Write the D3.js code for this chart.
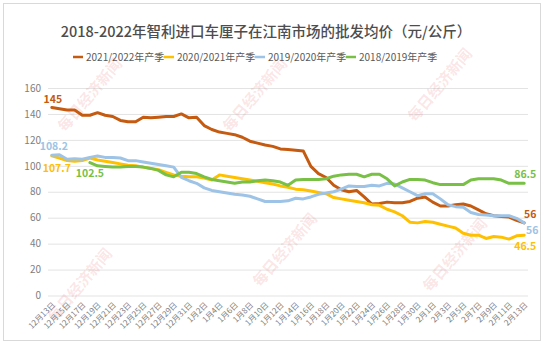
<!DOCTYPE html>
<html>
<head>
<meta charset="utf-8">
<script src="https://cdn.jsdelivr.net/npm/d3@7/dist/d3.min.js"></script>
<style>
  html, body { margin: 0; padding: 0; background: #fff; }
  svg { display: block; font-family: "Noto Sans CJK SC", "Noto Sans", sans-serif; }
</style>
</head>
<body>
<svg id="chart" width="553" height="344"></svg>
<script>
// Trading days, Dec 13 to Feb 13
const dates = [
  "12月13日","12月14日","12月15日","12月16日","12月17日","12月18日","12月19日","12月20日","12月21日","12月22日",
  "12月23日","12月24日","12月25日","12月26日","12月27日","12月28日","12月29日","12月30日","12月31日",
  "1月1日","1月2日","1月3日","1月4日","1月5日","1月6日","1月7日","1月8日","1月9日","1月10日",
  "1月11日","1月12日","1月13日","1月14日","1月15日","1月16日","1月17日","1月18日","1月19日","1月20日",
  "1月21日","1月22日","1月23日","1月24日","1月25日","1月26日","1月27日","1月28日","1月29日","1月30日","1月31日",
  "2月1日","2月2日","2月3日","2月4日","2月5日","2月6日","2月7日","2月8日","2月9日","2月10日","2月11日","2月12日","2月13日"
];

const seriesNames = ["2021/2022年产季", "2020/2021年产季", "2019/2020年产季", "2018/2019年产季"];

// Average wholesale price, yuan per kg
const season2122 = [
  145, 144, 143, 143, 139, 139, 141, 139, 138, 135,
  134, 134, 137.5, 137, 137.5, 138, 138, 140, 137, 137.5,
  131, 128, 126, 125, 124, 122, 119, 117.5, 116, 115,
  113, 112.5, 112, 111.5, 99.5, 94, 91, 85, 81.5, 80,
  81, 76, 70.5, 71, 72, 71.5, 71.5, 72.5, 75, 76,
  72, 69, 69, 70, 70.5, 69, 66, 63, 61.5, 61,
  60.5, 58, 56
];
const season2021 = [
  107.7, 106, 104, 103.5, 104, 106, 104.5, 103.5, 102.5, 101.5,
  100.5, 100, 99, 98, 97, 95, 93, 92, 91.5, 91.5,
  90.5, 89, 93, 92, 91, 90, 89, 88, 87, 86,
  84.5, 83.5, 82, 81.5, 80.5, 79.5, 78.5, 75.5, 74.5, 73.5,
  72.5, 71.5, 70, 69.5, 66.5, 64.5, 61.5, 56.5, 56, 57,
  56.5, 55, 53.5, 52, 48, 46.5, 46.5, 44, 45.5, 45,
  43.5, 46, 46.5
];
const season1920 = [
  108.2, 108.5, 105, 105.5, 105, 106.5, 107.5, 106.5, 106.5, 106,
  104, 104, 103, 102, 101, 100, 99, 91, 88.5, 86.5,
  83, 81, 80, 79, 78, 77.5, 76.5, 74.5, 72.5, 72.5,
  72.5, 73, 75, 74.5, 76, 78, 79, 80, 82, 84.5,
  84, 84, 85, 84.5, 86.5, 86, 83, 80, 77, 78.5,
  78.5, 74.5, 70, 68.5, 68, 64, 62.5, 62, 61.5, 61.5,
  61.5, 59.5, 56
];
const season1819 = [
  null, null, null, null, null, 102.5, 100, 99.5, 99, 99,
  99.5, 99.5, 99, 98, 96.5, 93, 91.5, 95, 95, 94,
  91.5, 89.5, 88.5, 87.5, 86.5, 87.5, 87.5, 88.5, 89, 88.5,
  87.5, 85, 89, 89.5, 89.5, 89.5, 90, 92, 93, 93.5,
  93.5, 91.5, 93.5, 93.5, 90, 84.5, 87.5, 89.5, 89.5, 89,
  87, 85.5, 85.5, 85.5, 85.5, 89, 90, 90, 90, 89,
  86.5, 86.5, 86.5
];

const yTicks = [0, 20, 40, 60, 80, 100, 120, 140, 160];
const colors = ["#c55a11", "#ffc000", "#9dc3e6", "#78c046"];
const allSeries = [season2122, season2021, season1920, season1819];

const svg = d3.select("#chart");

// chart frame
svg.append("rect")
  .attr("x", 3.5).attr("y", 3.5).attr("width", 537).attr("height", 337)
  .attr("fill", "#fff").attr("stroke", "#d9d9d9").attr("stroke-width", 1);

const plot = { left: 48, right: 528, top: 88, bottom: 295.5 };

const x = d3.scaleBand().domain(dates).range([plot.left, plot.right]);
const cx = d => x(d) + x.bandwidth() / 2;
const y = d3.scaleLinear().domain([0, 160]).range([plot.bottom, plot.top]);

// title
svg.append("text")
  .attr("x", 266).attr("y", 37)
  .attr("text-anchor", "middle")
  .attr("font-size", 14.5)
  .attr("font-weight", 500)
  .attr("fill", "#4d4d4d")
  .text("2018-2022年智利进口车厘子在江南市场的批发均价（元/公斤）");

// legend
const legend = svg.append("g").attr("transform", "translate(73,57)");
const legendStep = 91;
seriesNames.forEach((name, i) => {
  const g = legend.append("g").attr("transform", `translate(${i * legendStep},0)`);
  g.append("line").attr("x1", 0).attr("x2", 10).attr("y1", 0).attr("y2", 0)
    .attr("stroke", colors[i]).attr("stroke-width", 2.5);
  g.append("text").attr("x", 13).attr("y", 3.5)
    .attr("font-size", 10).attr("fill", "#595959").text(name);
});

// horizontal gridlines + y axis labels
const yAxis = d3.axisLeft(y).tickValues(yTicks).tickSize(-(plot.right - plot.left)).tickPadding(7);
const gy = svg.append("g").attr("transform", `translate(${plot.left},0)`).call(yAxis);
gy.select(".domain").remove();
gy.selectAll(".tick line").attr("stroke", "#e3e3e3").attr("stroke-width", 1);
gy.selectAll(".tick text").attr("font-size", 10).attr("fill", "#808080")
  .attr("font-family", "'Noto Sans CJK SC', sans-serif");

// x axis labels, every second day
const xAxis = d3.axisBottom(x)
  .tickValues(dates.filter((d, i) => i % 2 === 0))
  .tickSize(0).tickPadding(0);
const gx = svg.append("g").attr("transform", `translate(0,${plot.bottom + 6})`).call(xAxis);
gx.select(".domain").remove();
gx.selectAll(".tick text")
  .attr("font-size", 8).attr("fill", "#808080")
  .attr("font-family", "'Noto Sans CJK SC', sans-serif")
  .attr("text-anchor", "end")
  .attr("dy", "0.35em")
  .attr("transform", "translate(2,2) rotate(-45)");

// watermark
const wmPos = [[90, 95], [255, 95], [440, 85], [80, 285], [285, 250], [455, 255]];
svg.append("g").selectAll("text").data(wmPos).join("text")
  .attr("transform", d => `translate(${d[0]},${d[1]}) rotate(-50)`)
  .attr("text-anchor", "middle").attr("dy", "0.35em")
  .attr("font-size", 15).attr("font-weight", "bold")
  .attr("fill", "rgba(225,70,70,0.14)")
  .text("每日经济新闻");

// series lines, drawn in legend order so later seasons sit on top
const line = d3.line()
  .defined(d => d.v != null)
  .x(d => cx(d.date))
  .y(d => y(d.v))
  .curve(d3.curveLinear);

allSeries.forEach((vals, i) => {
  const pts = dates.map((date, j) => ({ date, v: vals[j] }));
  svg.append("path").datum(pts)
    .attr("fill", "none")
    .attr("stroke", colors[i])
    .attr("stroke-width", 3)
    .attr("stroke-linejoin", "round")
    .attr("stroke-linecap", "round")
    .attr("d", line);
});

// value labels at the start and end of each season
const firstIdx = vals => vals.findIndex(v => v != null);
const lastIdx = vals => vals.length - 1;
const labels = [
  { s: 0, at: firstIdx(season2122), dx: 1, dy: -8 },
  { s: 2, at: firstIdx(season1920), dx: 2, dy: -9 },
  { s: 1, at: firstIdx(season2021), dx: 5, dy: 12 },
  { s: 3, at: firstIdx(season1819), dx: 0, dy: 11 },
  { s: 3, at: lastIdx(season1819), dx: 1, dy: -9 },
  { s: 0, at: lastIdx(season2122), dx: 6, dy: -9 },
  { s: 2, at: lastIdx(season1920), dx: 8, dy: 7 },
  { s: 1, at: lastIdx(season2021), dx: 1, dy: 11 }
];
svg.append("g").selectAll("text").data(labels).join("text")
  .attr("x", d => cx(dates[d.at]) + d.dx)
  .attr("y", d => y(allSeries[d.s][d.at]) + d.dy)
  .attr("dy", "0.35em")
  .attr("text-anchor", "middle")
  .attr("font-size", 10.5)
  .attr("font-weight", "bold")
  .attr("fill", d => colors[d.s])
  .text(d => allSeries[d.s][d.at]);
</script>
</body>
</html>
